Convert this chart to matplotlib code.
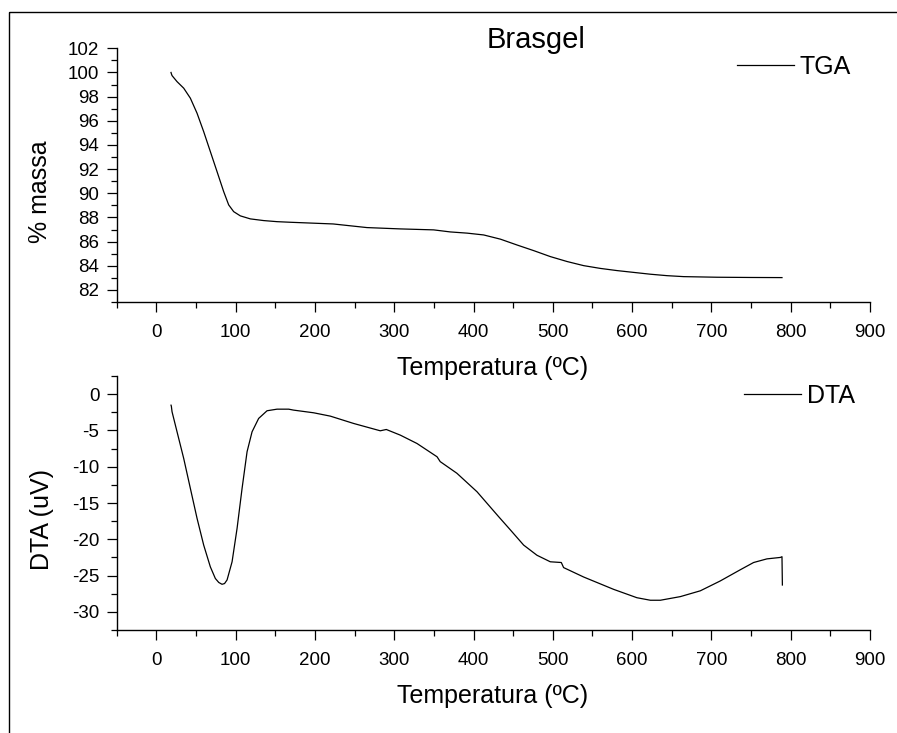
import matplotlib
matplotlib.use("Agg")
import matplotlib.pyplot as plt
from matplotlib.patches import Rectangle
from matplotlib.ticker import MultipleLocator

plt.rcParams["font.family"] = ["Liberation Sans", "DejaVu Sans"]
plt.rcParams["axes.unicode_minus"] = False

# --- data -------------------------------------------------------------------

tga_temp = [18.5, 18.9, 19.8, 26.1, 34.5, 42.9, 51.3, 59.7, 68.1, 76.5, 84.9,
            91.2, 97.5, 105.9, 118.5, 135.3, 152.2, 169, 223, 265.6, 307.7,
            349.7, 370.7, 392, 412.8, 434, 454.8, 476, 496.8, 518, 538.9, 560,
            581, 602, 623, 644, 665, 707, 750, 789]
tga_mass = [100.0, 99.9, 99.74, 99.24, 98.70, 97.87, 96.63, 95.1, 93.45, 91.8,
            90.14, 89.04, 88.48, 88.13, 87.88, 87.74, 87.65, 87.6, 87.46,
            87.16, 87.05, 86.97, 86.8, 86.7, 86.55, 86.2, 85.72, 85.25, 84.76,
            84.35, 84.01, 83.78, 83.6, 83.45, 83.3, 83.18, 83.1, 83.05, 83.03,
            83.02]

dta_temp = [18.5, 18.9, 19.8, 26.1, 34.5, 42.9, 51.3, 59.7, 68.1, 74.4, 78.7,
            82.8, 86, 89.2, 95.5, 101.8, 108.1, 114.4, 120.7, 129, 139.6,
            152.2, 166.9, 173, 198.4, 219.4, 248.8, 282.4, 290, 307.7, 328.7,
            354, 358, 379, 404.4, 431, 446.4, 463.2, 480, 496.8, 510.7, 513.6,
            538.9, 576.7, 606, 623, 635.6, 660.8, 686, 711, 736.4, 753.2, 770,
            787, 789, 789.5]
dta_uv = [-1.52, -1.65, -2.43, -5.19, -8.86, -12.99, -17.1, -20.8, -23.8,
          -25.4, -25.95, -26.2, -26.1, -25.6, -23.1, -18.5, -13.0, -7.94,
          -5.19, -3.35, -2.29, -2.07, -2.07, -2.2, -2.57, -3.03, -4.04, -5.05,
          -4.87, -5.65, -6.8, -8.63, -9.3, -10.9, -13.45, -16.8, -18.7, -20.8,
          -22.2, -23.1, -23.2, -23.9, -25.2, -26.9, -28.05, -28.4, -28.4,
          -27.9, -27.1, -25.75, -24.2, -23.2, -22.7, -22.5, -22.4, -26.3]

x_major = list(range(0, 901, 100))
tga_yticks = list(range(82, 103, 2))
dta_yticks = list(range(-30, 1, 5))

# -----------------------------------------------------------------------------

W, H = 897, 733


def px(x, y):
    # pixel position (from top-left) -> figure fraction
    return x / W, 1 - y / H


fig = plt.figure(figsize=(W / 100, H / 100), dpi=100)

# outer frame, runs off the right and bottom edges
fig.patches.append(Rectangle(px(8.5, 11.5), 2, -2, transform=fig.transFigure,
                             fill=False, lw=1.0, edgecolor="black"))

ax_tga = fig.add_axes([116.7 / W, 1 - 302 / H, 753.3 / W, 253.7 / H])
ax_dta = fig.add_axes([116.7 / W, 1 - 630 / H, 753.3 / W, 254 / H])

ax_tga.plot(tga_temp, tga_mass, color="black", lw=0.9, label="TGA")
ax_dta.plot(dta_temp, dta_uv, color="black", lw=0.9, label="DTA")

ax_tga.set_ylim(81, 102)
ax_tga.set_yticks(tga_yticks)
ax_tga.yaxis.set_minor_locator(MultipleLocator(1))

ax_dta.set_ylim(-32.5, 2.5)
ax_dta.set_yticks(dta_yticks)
ax_dta.yaxis.set_minor_locator(MultipleLocator(2.5))

for ax in (ax_tga, ax_dta):
    ax.set_xlim(-50, 900)
    ax.set_xticks(x_major)
    ax.xaxis.set_minor_locator(MultipleLocator(50))
    ax.spines["top"].set_visible(False)
    ax.spines["right"].set_visible(False)
    ax.spines["left"].set_linewidth(1.0)
    ax.spines["bottom"].set_linewidth(1.0)
    ax.tick_params(which="major", length=7.5, width=0.9, labelsize=13.5,
                   direction="out")
    ax.tick_params(which="minor", length=4, width=0.9, direction="out")
    ax.tick_params(axis="x", which="major", pad=8)
    ax.tick_params(axis="y", which="major", pad=5)

ax_tga.legend(loc="center right", bbox_to_anchor=(0.975, 0.926),
              frameon=False, fontsize=18, handlelength=2.25,
              handletextpad=0.25, borderpad=0, borderaxespad=0)
ax_dta.legend(loc="center right", bbox_to_anchor=(0.980, 0.922),
              frameon=False, fontsize=18, handlelength=2.25,
              handletextpad=0.25, borderpad=0, borderaxespad=0)

fig.text(*px(487, 47.7), "Brasgel", fontsize=21, ha="left", va="baseline")
fig.text(*px(493, 375), "Temperatura (ºC)", fontsize=18, ha="center", va="baseline")
fig.text(*px(493, 703), "Temperatura (ºC)", fontsize=18, ha="center", va="baseline")
fig.text(*px(40, 192), "% massa", fontsize=18, rotation=90, ha="center", va="center")
fig.text(*px(42, 520), "DTA (uV)", fontsize=18, rotation=90, ha="center", va="center")

fig.savefig("out.png", dpi=100)
